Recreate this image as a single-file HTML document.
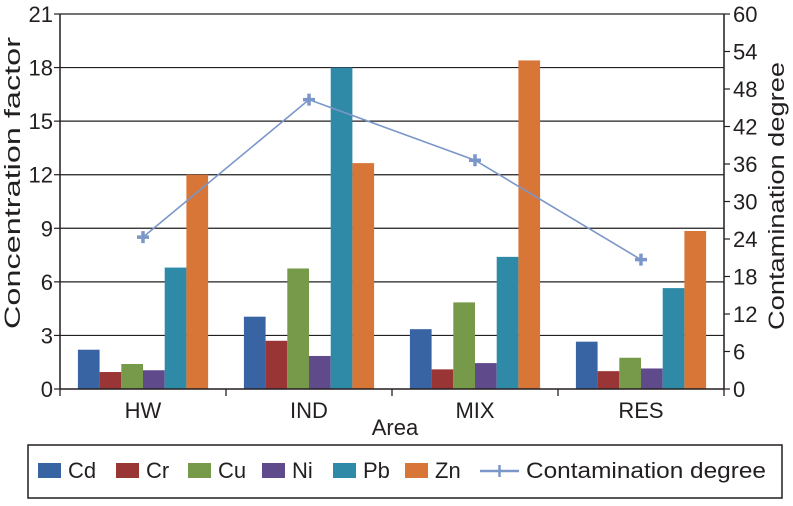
<!DOCTYPE html>
<html><head><meta charset="utf-8"><style>
body{margin:0;background:#fff;}
svg text{font-family:"Liberation Sans",Arial,sans-serif;fill:#231f20;}
</style></head><body>
<svg id="chart" width="793" height="501" viewBox="0 0 793 501"></svg>
<script>
const categories=["HW","IND","MIX","RES"];
const seriesNames=["Cd","Cr","Cu","Ni","Pb","Zn"];
const seriesColors=["#3864a4","#9a3536","#76994a","#5f4a8b","#2e8aa6","#d87638"];
const cd=[2.2,4.05,3.35,2.65];
const cr=[0.95,2.7,1.1,1.0];
const cu=[1.4,6.75,4.85,1.75];
const ni=[1.05,1.85,1.45,1.15];
const pb=[6.8,18.0,7.4,5.65];
const zn=[12.0,12.65,18.4,8.85];
const contamination=[24.3,46.3,36.6,20.7];
const leftTicks=[0,3,6,9,12,15,18,21];
const rightTicks=[0,6,12,18,24,30,36,42,48,54,60];

const svg=document.getElementById('chart');
const NS='http://www.w3.org/2000/svg';
const X0=60,X1=724,Y0=389,Y1=14;
const FS=22;
const yL=v=>Y0-(v/21)*(Y0-Y1);
const yR=v=>Y0-(v/60)*(Y0-Y1);
const catW=(X1-X0)/categories.length;
const xc=i=>X0+catW*(i+0.5);
function mk(t,a,txt){const e=document.createElementNS(NS,t);for(const k in a)e.setAttribute(k,a[k]);if(txt!==undefined)e.textContent=txt;svg.appendChild(e);return e;}

leftTicks.forEach(v=>{
  if(v>0){const g=mk('line',{x1:X0,x2:X1,y1:yL(v),y2:yL(v),stroke:'#231f20','stroke-width':1.2});
  
  }
  const tk=mk('line',{x1:X0-6,x2:X0,y1:yL(v),y2:yL(v),stroke:'#231f20','stroke-width':1.2});
  
  
  const t=mk('text',{x:X0-7,y:yL(v)+8,'text-anchor':'end','font-size':FS},String(v));
  
  
});
rightTicks.forEach(v=>{
  const tk=mk('line',{x1:X1,x2:X1+6,y1:yR(v),y2:yR(v),stroke:'#231f20','stroke-width':1.2});
  
  
  const t=mk('text',{x:X1+9,y:yR(v)+8,'text-anchor':'start','font-size':FS},String(v));
  
  
});

const allSeries=[cd,cr,cu,ni,pb,zn];
const barW=21.7;
categories.forEach((c,i)=>{
  const start=xc(i)-barW*3;
  allSeries.forEach((s,j)=>{
    const r=mk('rect',{x:start+j*barW,y:yL(s[i]),width:barW,height:Y0-yL(s[i]),fill:seriesColors[j]});
    
    
  });
  const t=mk('text',{x:xc(i),y:418,'text-anchor':'middle','font-size':FS},c);
  
  
});
const ax=[[X0,Y1,X0,Y0],[X1,Y1,X1,Y0],[X0,Y0,X1,Y0]];
ax.forEach((a,k)=>{const l=mk('line',{x1:a[0],y1:a[1],x2:a[2],y2:a[3],stroke:'#231f20','stroke-width':1.5});

});
for(let i=0;i<=categories.length;i++){const l=mk('line',{x1:X0+catW*i,x2:X0+catW*i,y1:Y0,y2:Y0+7,stroke:'#231f20','stroke-width':1.3});

}

const pts=contamination.map((v,i)=>xc(i)+','+yR(v)).join(' ');
const pl=mk('polyline',{points:pts,fill:'none',stroke:'#7b96c8','stroke-width':1.6});


contamination.forEach((v,i)=>{
  const x=xc(i),y=yR(v);
  const p=mk('path',{d:`M${x-6},${y}H${x+6}M${x},${y-6}V${y+6}`,stroke:'#7b96c8','stroke-width':3.5});
  
  
});

let t=mk('text',{x:395,y:435,'text-anchor':'middle','font-size':FS},'Area');


t=mk('text',{x:0,y:0,'text-anchor':'middle','font-size':FS,textLength:292,lengthAdjust:'spacingAndGlyphs',transform:'translate(20,183) rotate(-90)'},'Concentration factor');


t=mk('text',{x:0,y:0,'text-anchor':'middle','font-size':FS,textLength:268,lengthAdjust:'spacingAndGlyphs',transform:'translate(784,196) rotate(-90)'},'Contamination degree');



const lb=mk('rect',{x:28,y:445,width:754,height:53,fill:'#fff',stroke:'#231f20','stroke-width':1.5});


const lx=[38,116,188,262,333,405];
seriesNames.forEach((n,j)=>{
  const r=mk('rect',{x:lx[j],y:463,width:23,height:15,fill:seriesColors[j]});
  
  
  const tt=mk('text',{x:lx[j]+30,y:478,'font-size':FS},n);
  
  
});
const ll=mk('path',{d:'M480,471H519M499.5,465V477',stroke:'#7b96c8','stroke-width':2.5});


t=mk('text',{x:526,y:478,'font-size':FS,textLength:240,lengthAdjust:'spacingAndGlyphs'},'Contamination degree');


</script>
</body></html>
